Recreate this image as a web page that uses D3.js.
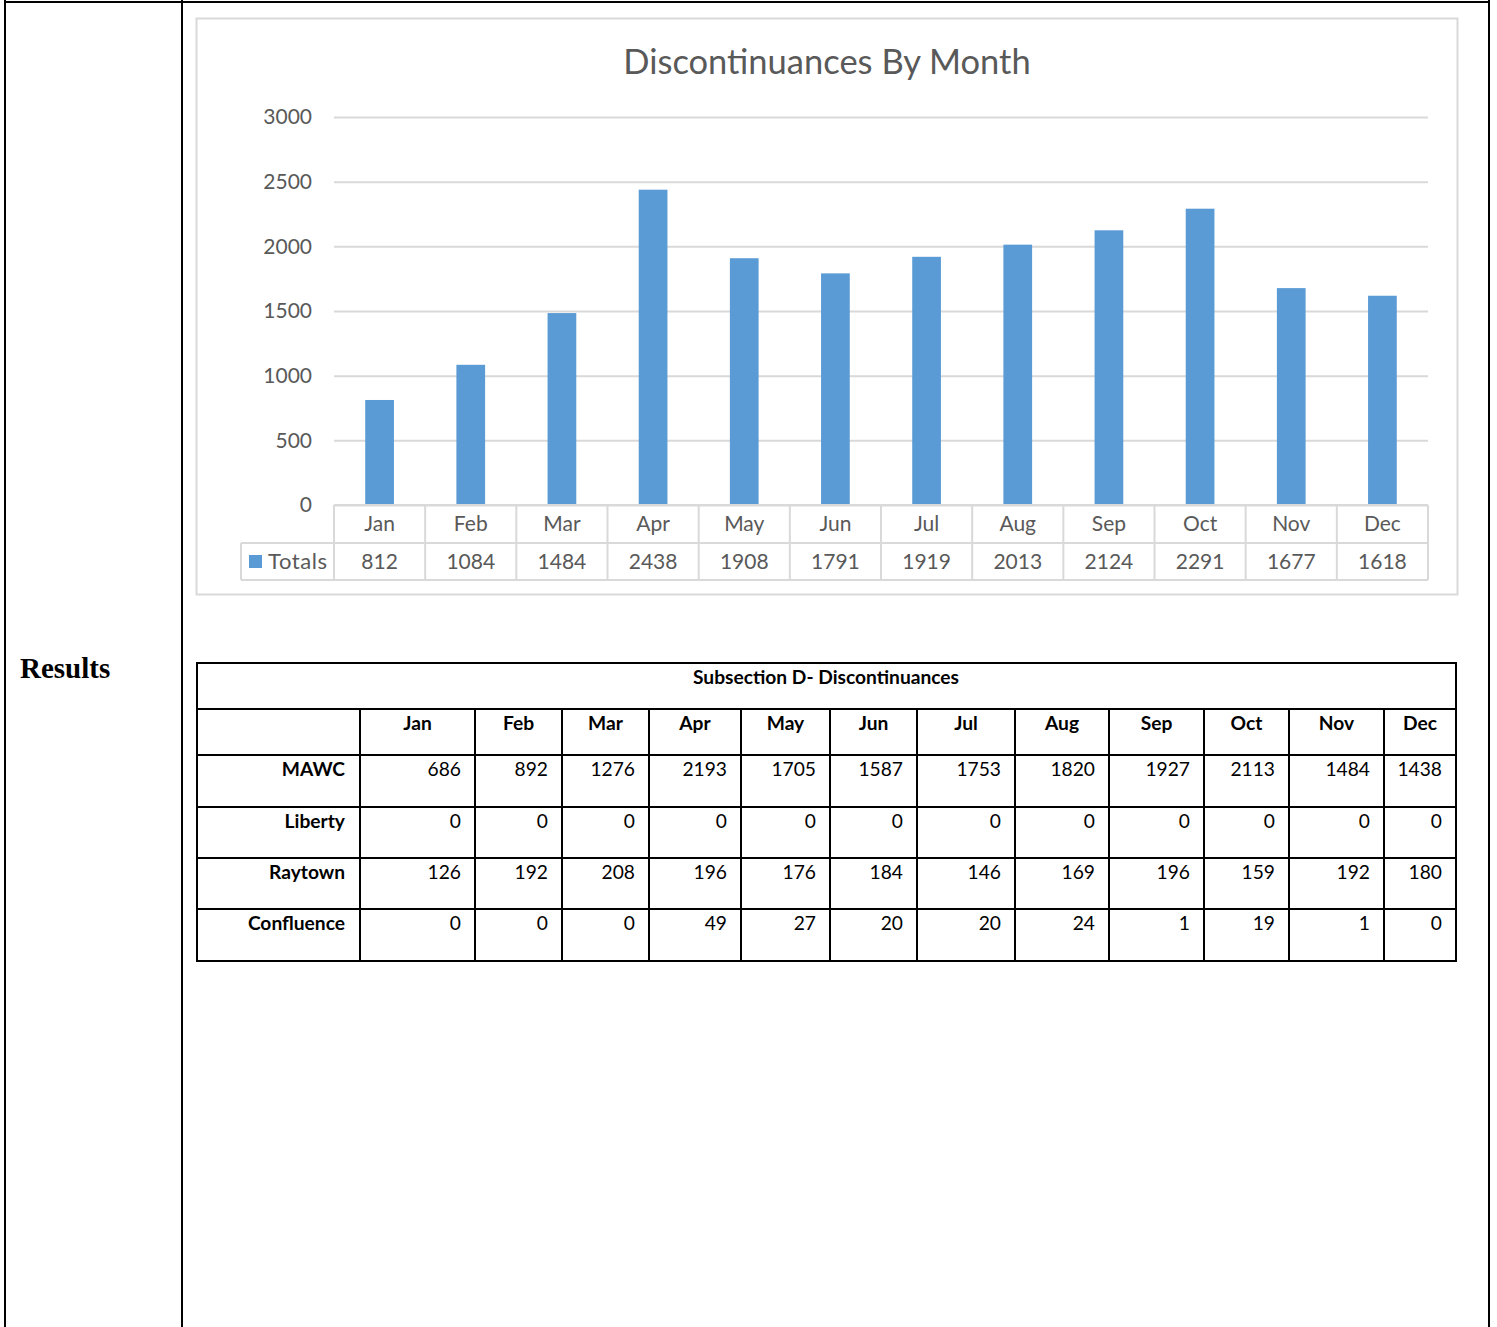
<!DOCTYPE html>
<html><head><meta charset="utf-8">
<script src="https://cdn.jsdelivr.net/npm/d3@7"></script>
<style>
html,body{margin:0;padding:0;background:#fff;}
svg{display:block;}
</style></head>
<body>
<svg id="c" width="1497" height="1327"></svg>
<script>
const months = ["Jan","Feb","Mar","Apr","May","Jun","Jul","Aug","Sep","Oct","Nov","Dec"];
const totals = [812,1084,1484,2438,1908,1791,1919,2013,2124,2291,1677,1618];
const yTicks = [0,500,1000,1500,2000,2500,3000];
const seriesName = "Totals";
const chartTitle = "Discontinuances By Month";
const tableTitle = "Subsection D- Discontinuances";
const rowNames = ["MAWC","Liberty","Raytown","Confluence"];
const mawc = [686,892,1276,2193,1705,1587,1753,1820,1927,2113,1484,1438];
const liberty = [0,0,0,0,0,0,0,0,0,0,0,0];
const raytown = [126,192,208,196,176,184,146,169,196,159,192,180];
const confluence = [0,0,0,49,27,20,20,24,1,19,1,0];
const sideLabel = "Results";

const svg = d3.select("#c");
const FONT = "Lato, 'Open Sans', sans-serif";
const grey = "#595959";

// page frame
const frame = svg.append("g").attr("stroke","#000").attr("stroke-width",2).attr("fill","none");
frame.append("line").attr("x1",5).attr("x2",5).attr("y1",0).attr("y2",1327);
frame.append("line").attr("x1",182).attr("x2",182).attr("y1",0).attr("y2",1327);
frame.append("line").attr("x1",1489).attr("x2",1489).attr("y1",0).attr("y2",1327);
frame.append("line").attr("x1",4).attr("x2",1490).attr("y1",2).attr("y2",2);

svg.append("text").attr("x",20).attr("y",678).text(sideLabel)
  .attr("font-family","'Liberation Serif','Times New Roman',serif").attr("font-weight","bold")
  .attr("font-size",29).attr("fill","#000");

// chart box
svg.append("rect").attr("x",196.5).attr("y",18.5).attr("width",1261).attr("height",576)
  .attr("fill","#fff").attr("stroke","#d9d9d9").attr("stroke-width",2);

svg.append("text").attr("x",827).attr("y",74).attr("text-anchor","middle")
  .attr("font-family",FONT).attr("font-size",34.5).attr("fill",grey).text(chartTitle);

const L = 334, R = 1428, T = 117, B = 505;
const x = d3.scaleBand().domain(months).range([L,R]).paddingInner(0.685).paddingOuter(0.3425);
const y = d3.scaleLinear().domain([0,3000]).range([B,T]);

// gridlines
const grid = svg.append("g").attr("transform",`translate(${L},0)`)
  .call(d3.axisLeft(y).tickValues(yTicks).tickSize(-(R-L)).tickFormat(""));
grid.select(".domain").remove();
grid.selectAll(".tick line").attr("stroke","#d9d9d9").attr("stroke-width",2);

// y labels
const ya = svg.append("g").attr("transform",`translate(${L},0)`)
  .call(d3.axisLeft(y).tickValues(yTicks).tickSize(0).tickPadding(22).tickFormat(d3.format("d")));
ya.select(".domain").remove();
ya.selectAll("text").attr("font-family",FONT).attr("font-size",21).attr("fill",grey);

// bars
svg.append("g").selectAll("rect").data(totals).join("rect")
  .attr("x",(d,i)=>x(months[i])).attr("width",x.bandwidth())
  .attr("y",d=>y(d)).attr("height",d=>y(0)-y(d)).attr("fill","#5b9bd5");

// data table under chart
const step = x.step();
const dt = svg.append("g");
const r1 = B, r2 = 543, r3 = 580, legL = 241;
const gl = {stroke:"#d9d9d9","stroke-width":2};
function ln(g,x1,y1,x2,y2){const l=g.append("line").attr("x1",x1).attr("y1",y1).attr("x2",x2).attr("y2",y2);for(const k in gl)l.attr(k,gl[k]);}
ln(dt,L,r1,R,r1);
ln(dt,legL,r2,R,r2);
ln(dt,legL,r3,R,r3);
ln(dt,legL,r2,legL,r3);
months.forEach((m,i)=>{ ln(dt,L+i*step,r1,L+i*step,r3); });
ln(dt,R,r1,R,r3);
dt.selectAll("text.cat").data(months).join("text").attr("class","cat")
  .attr("x",m=>x(m)+x.bandwidth()/2).attr("y",531).attr("text-anchor","middle")
  .attr("font-family",FONT).attr("font-size",21).attr("fill",grey).text(m=>m);
dt.selectAll("text.val").data(totals).join("text").attr("class","val")
  .attr("x",(d,i)=>x(months[i])+x.bandwidth()/2).attr("y",569).attr("text-anchor","middle")
  .attr("font-family",FONT).attr("font-size",21).attr("fill",grey).text(d=>d);
dt.append("rect").attr("x",249).attr("y",555).attr("width",13).attr("height",13).attr("fill","#5b9bd5");
dt.append("text").attr("x",268).attr("y",569).attr("font-family",FONT).attr("font-size",22)
  .attr("textLength",59).attr("lengthAdjust","spacing").attr("fill",grey).text(seriesName);

// bottom table
const colEdges = [197,360,475,562,649,741,830,917,1015,1109,1204,1289,1384,1456];
const rowEdges = [663,709,755,807,858,909,961];
const tg = svg.append("g");
const rows = [mawc,liberty,raytown,confluence];
const FS = 19.2;
tg.append("rect").attr("x",197).attr("y",663).attr("width",1456-197).attr("height",961-663)
  .attr("fill","none").attr("stroke","#000").attr("stroke-width",2);
rowEdges.slice(1,-1).forEach(yv=>tg.append("line").attr("x1",197).attr("x2",1456).attr("y1",yv).attr("y2",yv).attr("stroke","#000").attr("stroke-width",2));
colEdges.slice(1,-1).forEach(xv=>tg.append("line").attr("x1",xv).attr("x2",xv).attr("y1",709).attr("y2",961).attr("stroke","#000").attr("stroke-width",2));
const TF = "Lato, 'Open Sans', sans-serif";
tg.append("text").attr("x",826).attr("y",684).attr("text-anchor","middle").attr("font-family",TF)
  .attr("font-weight","bold").attr("font-size",FS).text(tableTitle);
months.forEach((m,i)=>{
  tg.append("text").attr("x",(colEdges[i+1]+colEdges[i+2])/2).attr("y",730).attr("text-anchor","middle")
    .attr("font-family",TF).attr("font-weight","bold").attr("font-size",FS).text(m);
});
rows.forEach((vals,r)=>{
  const yb = rowEdges[r+2]+21;
  tg.append("text").attr("x",colEdges[1]-15).attr("y",yb).attr("text-anchor","end")
    .attr("font-family",TF).attr("font-weight","bold").attr("font-size",FS).text(rowNames[r]);
  vals.forEach((v,i)=>{
    tg.append("text").attr("x",colEdges[i+2]-14).attr("y",yb).attr("text-anchor","end")
      .attr("font-family",TF).attr("font-size",FS).text(v);
  });
});
</script>
</body></html>
